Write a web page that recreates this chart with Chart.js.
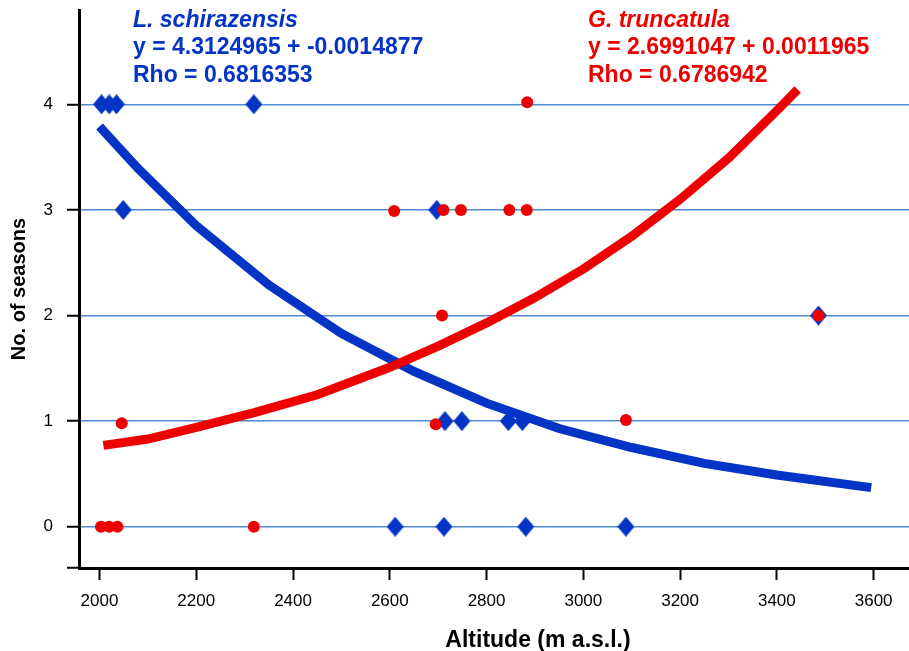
<!DOCTYPE html>
<html>
<head>
<meta charset="utf-8">
<title>Seasons vs altitude</title>
<script src="https://cdn.jsdelivr.net/npm/chart.js@4.4.1/dist/chart.umd.min.js"></script>
<style>
  html, body { margin: 0; padding: 0; background: #fff; overflow: hidden; }
  #wrap { width: 1007px; height: 651px; }
</style>
</head>
<body>
<div id="wrap"><canvas id="chartSeasons" width="1007" height="651"></canvas></div>
<script>
// Data
// L. schirazensis (blue diamonds)
const schirAlt = [2004, 2020, 2035, 2319, 2049, 2697, 3486, 2714, 2749, 2845, 2874, 2611, 2712, 2881, 3088];
const schirSeasons = [4, 4, 4, 4, 3, 3, 2, 1, 1, 1, 1, 0, 0, 0, 0];

// G. truncatula (red dots)
const truncAlt = [2003, 2020, 2037, 2319, 2046, 2695, 3088, 2609, 2711, 2747, 2847, 2883, 2708, 3486, 2884];
const truncSeasons = [0, 0, 0, 0, 0.98, 0.97, 1.01, 2.99, 3, 3, 3, 3, 2, 2, 4.02];

// Fitted curves
const schirCurveAlt = [2000, 2080, 2200, 2350, 2500, 2650, 2800, 2950, 3100, 3250, 3400, 3595];
const schirCurveSeasons = [3.79, 3.39, 2.85, 2.29, 1.83, 1.47, 1.17, 0.93, 0.75, 0.60, 0.49, 0.37];
const truncCurveAlt = [2008, 2100, 2200, 2320, 2450, 2600, 2700, 2800, 2900, 3000, 3100, 3200, 3300, 3400, 3443];
const truncCurveSeasons = [0.77, 0.83, 0.94, 1.08, 1.25, 1.51, 1.71, 1.93, 2.17, 2.44, 2.75, 3.10, 3.49, 3.94, 4.14];

// Axis ticks
const altTicks = [2000, 2200, 2400, 2600, 2800, 3000, 3200, 3400, 3600];
const seasonTicks = [0, 1, 2, 3, 4];

// Fit texts
const schirText = ['L. schirazensis', 'y = 4.3124965 + -0.0014877', 'Rho = 0.6816353'];
const truncText = ['G. truncatula', 'y = 2.6991047 + 0.0011965', 'Rho = 0.6786942'];

const BLUE = '#0434c6';
const RED = '#ee0000';
const GRID = '#4f89cf';
const Y_MIN = -0.391;

function toPoints(xs, ys) {
  return xs.map(function(x, i) { return { x: x, y: ys[i] }; });
}

// Diamond a bit taller than wide, like the original marker
function makeDiamond(w, h, color) {
  const c = document.createElement('canvas');
  c.width = w;
  c.height = h;
  const g = c.getContext('2d');
  g.fillStyle = color;
  g.beginPath();
  g.moveTo(w / 2, 0);
  g.lineTo(w, h / 2);
  g.lineTo(w / 2, h);
  g.lineTo(0, h / 2);
  g.closePath();
  g.fill();
  return c;
}
const diamond = makeDiamond(17, 20, BLUE);

// no auto padding around the scales, the plot area is fixed
function noPad(scale) {
  scale.paddingTop = 0;
  scale.paddingBottom = 0;
  scale.paddingLeft = 0;
  scale.paddingRight = 0;
}

Chart.defaults.font.family = '"Liberation Sans", Arial, sans-serif';
Chart.defaults.color = '#000';

// equation texts at the top
const fitLabels = {
  id: 'fitLabels',
  afterDraw: function(chart) {
    const ctx = chart.ctx;
    ctx.save();
    ctx.textAlign = 'left';
    ctx.textBaseline = 'alphabetic';
    const rows = [26.5, 54, 81.5];
    [[schirText, BLUE, 133], [truncText, RED, 588]].forEach(function(group) {
      ctx.fillStyle = group[1];
      group[0].forEach(function(line, i) {
        ctx.font = (i === 0 ? 'italic ' : '') + 'bold 23px "Liberation Sans", Arial, sans-serif';
        ctx.fillText(line, group[2], rows[i]);
      });
    });
    ctx.restore();
  }
};

const ctx1 = document.getElementById('chartSeasons').getContext('2d');
new Chart(ctx1, {
  type: 'scatter',
  data: {
    datasets: [
      {
        label: 'L. schirazensis',
        data: toPoints(schirAlt, schirSeasons),
        pointStyle: diamond,
        pointRadius: 9,
        pointHoverRadius: 9,
        backgroundColor: BLUE,
        borderColor: BLUE,
        order: 4
      },
      {
        label: 'G. truncatula',
        data: toPoints(truncAlt, truncSeasons),
        pointStyle: 'circle',
        pointRadius: 6,
        pointHoverRadius: 6,
        backgroundColor: RED,
        borderColor: RED,
        borderWidth: 0,
        order: 3
      },
      {
        label: 'L. schirazensis fit',
        data: toPoints(schirCurveAlt, schirCurveSeasons),
        showLine: true,
        pointRadius: 0,
        borderColor: BLUE,
        borderWidth: 9,
        tension: 0,
        order: 2
      },
      {
        label: 'G. truncatula fit',
        data: toPoints(truncCurveAlt, truncCurveSeasons),
        showLine: true,
        pointRadius: 0,
        borderColor: RED,
        borderWidth: 9,
        tension: 0,
        order: 1
      }
    ]
  },
  options: {
    responsive: false,
    animation: false,
    layout: { padding: { top: 10, right: 0, bottom: 0, left: 0 } },
    plugins: {
      legend: { display: false },
      tooltip: { enabled: false }
    },
    scales: {
      x: {
        type: 'linear',
        min: 1957.6,
        max: 3855,
        afterBuildTicks: function(scale) {
          scale.ticks = altTicks.map(function(v) { return { value: v }; });
        },
        afterFit: function(scale) { scale.height = 83; noPad(scale); },
        grid: {
          drawOnChartArea: false,
          tickLength: 12,
          tickWidth: 2,
          tickColor: '#000'
        },
        border: { color: '#000', width: 3 },
        ticks: {
          padding: 11,
          maxRotation: 0,
          font: { size: 17 },
          color: '#000',
          callback: function(value) { return String(value); }
        },
        title: {
          display: true,
          text: 'Altitude (m a.s.l.)',
          font: { size: 23, weight: 'bold', lineHeight: 0.9 },
          padding: { top: 0, bottom: 0 },
          color: '#000'
        }
      },
      y: {
        type: 'linear',
        min: Y_MIN,
        max: 4.893,
        afterBuildTicks: function(scale) {
          scale.ticks = [Y_MIN].concat(seasonTicks).map(function(v) { return { value: v }; });
        },
        afterFit: function(scale) { scale.width = 79; noPad(scale); },
        grid: {
          color: function(c) {
            return c.tick && c.tick.value < -0.1 ? 'rgba(0,0,0,0)' : GRID;
          },
          lineWidth: 1.5,
          tickLength: 12,
          tickWidth: 2,
          tickColor: '#000'
        },
        border: { color: '#000', width: 3 },
        ticks: {
          padding: 14,
          font: { size: 17 },
          color: '#000',
          callback: function(value) { return value < -0.1 ? '' : String(value); }
        },
        title: {
          display: true,
          text: 'No. of seasons',
          font: { size: 20, weight: 'bold' },
          padding: { top: 7, bottom: 0 },
          color: '#000'
        }
      }
    }
  },
  plugins: [fitLabels]
});
</script>
</body>
</html>
